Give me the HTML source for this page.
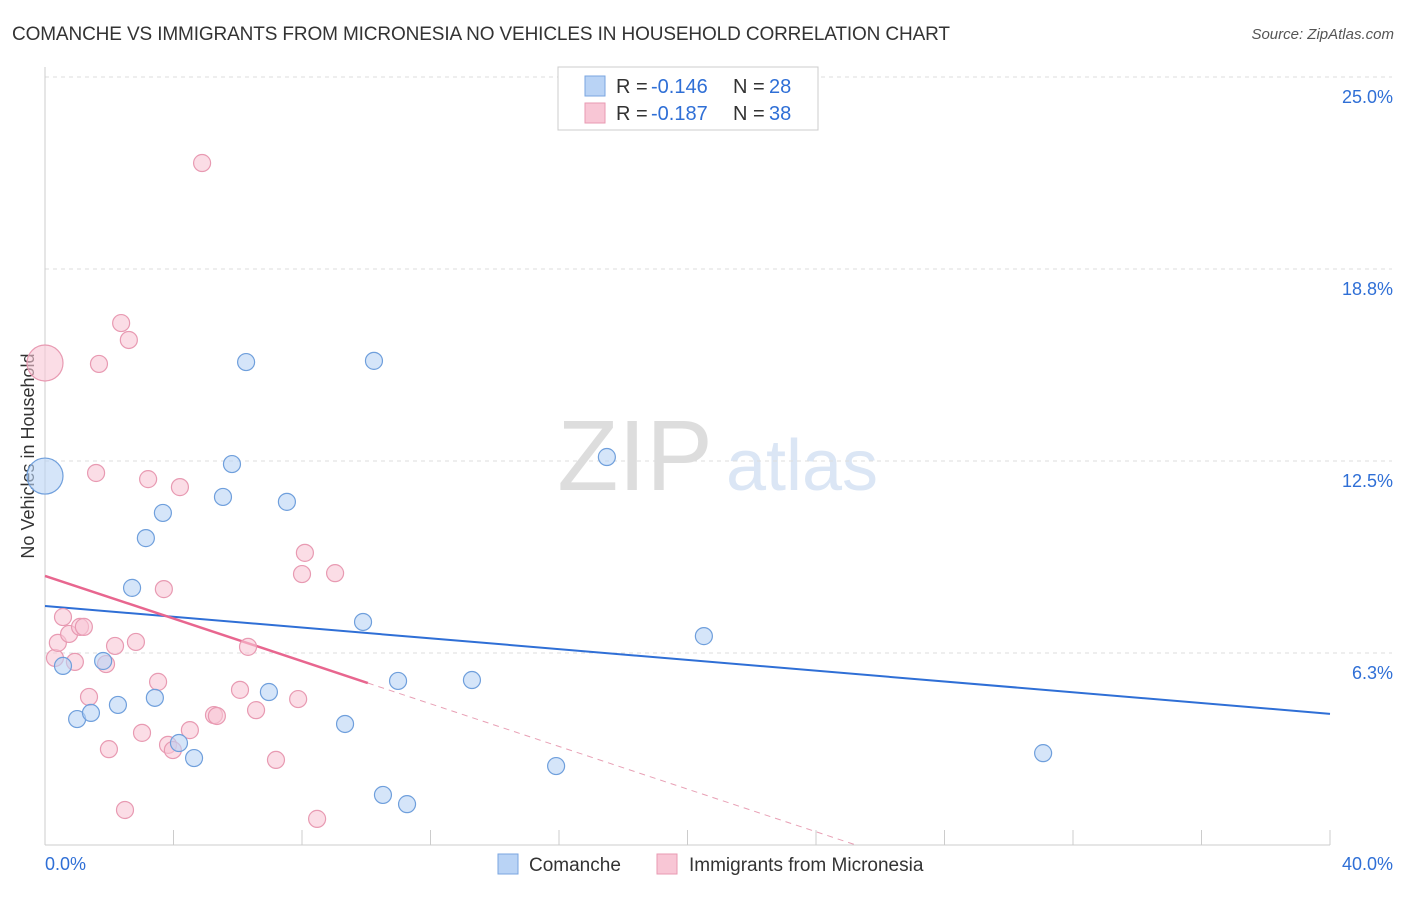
<!DOCTYPE html>
<html><head><meta charset="utf-8"><style>
body{margin:0;background:#fff;font-family:"Liberation Sans",sans-serif;}
svg text{font-family:"Liberation Sans",sans-serif;}
</style></head><body>
<svg id="c" width="1406" height="892">
<text x="12" y="40" font-size="19" fill="#333" textLength="938">COMANCHE VS IMMIGRANTS FROM MICRONESIA NO VEHICLES IN HOUSEHOLD CORRELATION CHART</text>
<text x="1394" y="39" font-size="15" fill="#555" font-style="italic" text-anchor="end">Source: ZipAtlas.com</text>
<text x="0" y="0" transform="translate(34,456) rotate(-90)" font-size="18" fill="#333" text-anchor="middle">No Vehicles in Household</text>
<g><text x="635" y="490" font-size="100" fill="#ddd" font-family="Liberation Serif" text-anchor="middle">ZIP</text><text x="802" y="490" font-size="72" fill="#dbe6f5" text-anchor="middle">atlas</text></g>
<g id="grid"></g><g id="axes"></g><g id="lines"></g><g id="pts"></g>
<g>
<rect x="558" y="67" width="260" height="63" fill="#fff" stroke="#ccc"/>
<rect x="585" y="76" width="20" height="20" fill="#b9d3f5" stroke="#7aa6e0"/>
<rect x="585" y="103" width="20" height="20" fill="#f8c6d5" stroke="#e89ab2"/>
<text x="616" y="93" font-size="20" fill="#333">R = </text><text x="651" y="93" font-size="20" fill="#2f6fd6">-0.146</text>
<text x="733" y="93" font-size="20" fill="#333">N = </text><text x="769" y="93" font-size="20" fill="#2f6fd6">28</text>
<text x="616" y="120" font-size="20" fill="#333">R = </text><text x="651" y="120" font-size="20" fill="#2f6fd6">-0.187</text>
<text x="733" y="120" font-size="20" fill="#333">N = </text><text x="769" y="120" font-size="20" fill="#2f6fd6">38</text>
</g>
<g>
<rect x="498" y="854" width="20" height="20" fill="#b9d3f5" stroke="#7aa6e0"/>
<text x="529" y="871" font-size="19" fill="#333">Comanche</text>
<rect x="657" y="854" width="20" height="20" fill="#f8c6d5" stroke="#e89ab2"/>
<text x="689" y="871" font-size="19" fill="#333">Immigrants from Micronesia</text>
</g>
</svg>
<script>
const yTicks=[6.25,12.5,18.75,25];
const yTickLabels=["6.3%","12.5%","18.8%","25.0%"];
const xTickLabels=["0.0%","40.0%"];
const comancheX=[0,0.56,1.00,1.43,1.81,2.27,2.71,3.14,3.42,3.67,4.17,4.64,5.54,5.82,6.26,6.97,7.53,9.34,9.90,10.24,10.52,10.99,11.27,13.29,15.91,17.49,20.51,31.07];
const comancheY=[12.01,5.83,4.10,4.30,5.99,4.56,8.37,9.99,4.79,10.81,3.32,2.83,11.33,12.40,15.72,4.98,11.17,3.94,7.26,15.76,1.63,5.34,1.33,5.37,2.57,12.63,6.80,2.99];
const microX=[0,0.31,0.40,0.56,0.75,0.93,1.09,1.21,1.37,1.59,1.68,1.90,1.99,2.18,2.37,2.49,2.61,2.83,3.02,3.21,3.52,3.70,3.83,3.98,4.20,4.51,4.89,5.26,5.35,6.07,6.32,6.57,7.19,7.88,8.09,8.00,8.47,9.03];
const microY=[15.69,6.09,6.58,7.42,6.87,5.96,7.10,7.10,4.82,12.11,15.66,5.89,3.12,6.48,16.99,1.14,16.44,6.61,3.65,11.91,5.31,8.33,3.26,3.09,11.65,3.74,22.20,4.23,4.20,5.05,6.45,4.39,2.77,4.75,9.51,8.82,0.85,8.85];
const comancheTrend=[7.78,4.27];
const microTrend=[8.76,-0.347];
const NS="http://www.w3.org/2000/svg";
const X=v=>45+v/40*1285, Y=v=>845-v/6.25*192;
function mk(t,a,p){const e=document.createElementNS(NS,t);for(const k in a)e.setAttribute(k,a[k]);p.appendChild(e);return e;}
const grid=document.getElementById('grid'),axes=document.getElementById('axes'),lines=document.getElementById('lines'),pts=document.getElementById('pts');
yTicks.forEach((v,i)=>{
 const l=mk('line',{x1:45,x2:1392,y1:Y(v),y2:Y(v),stroke:'#ddd','stroke-dasharray':'4,4'},grid);
 
 
 const t=mk('text',{x:1393,y:Y(v)+26,'font-size':18,fill:'#2f6fd6','text-anchor':'end'},axes);t.textContent=yTickLabels[i];
 
 
});
mk('line',{x1:45,x2:45,y1:67,y2:845,stroke:'#ccc'},axes);
mk('line',{x1:45,x2:1330,y1:845,y2:845,stroke:'#ccc'},axes);
for(let i=1;i<=10;i++){mk('line',{x1:X(i*4),x2:X(i*4),y1:830,y2:845,stroke:'#ccc'},axes);}
[[0,'start',45],[40,'end',1393]].forEach((d,i)=>{const t=mk('text',{x:d[2],y:870,'font-size':18,fill:'#2f6fd6','text-anchor':d[1]},axes);t.textContent=xTickLabels[i];
 
 });
let b=mk('line',{x1:X(0),y1:Y(comancheTrend[0]),x2:X(40),y2:Y(comancheTrend[1]),stroke:'#2f6fd6','stroke-width':2},lines);


const xe=10.05,xz=-microTrend[0]/microTrend[1];
let p1=mk('line',{x1:X(0),y1:Y(microTrend[0]),x2:X(xe),y2:Y(microTrend[0]+microTrend[1]*xe),stroke:'#e8668f','stroke-width':2.5},lines);


let p2=mk('line',{x1:X(xe),y1:Y(microTrend[0]+microTrend[1]*xe),x2:X(xz),y2:Y(0),stroke:'#e8a0b5','stroke-width':1,'stroke-dasharray':'6,5'},lines);


function dots(xs,ys,fill,stroke,name){xs.forEach((x,i)=>{const r=(x===0)?18:8.5;
 const c=mk('circle',{cx:X(x),cy:Y(ys[i]),r:r,fill:fill,'fill-opacity':0.6,stroke:stroke,'stroke-width':1.2},pts);
 
 });}
dots(microX,microY,'#f8c6d5','#e89ab2','point-micronesia');
dots(comancheX,comancheY,'#b9d3f5','#6f9fdc','point-comanche');
</script>
</body></html>
